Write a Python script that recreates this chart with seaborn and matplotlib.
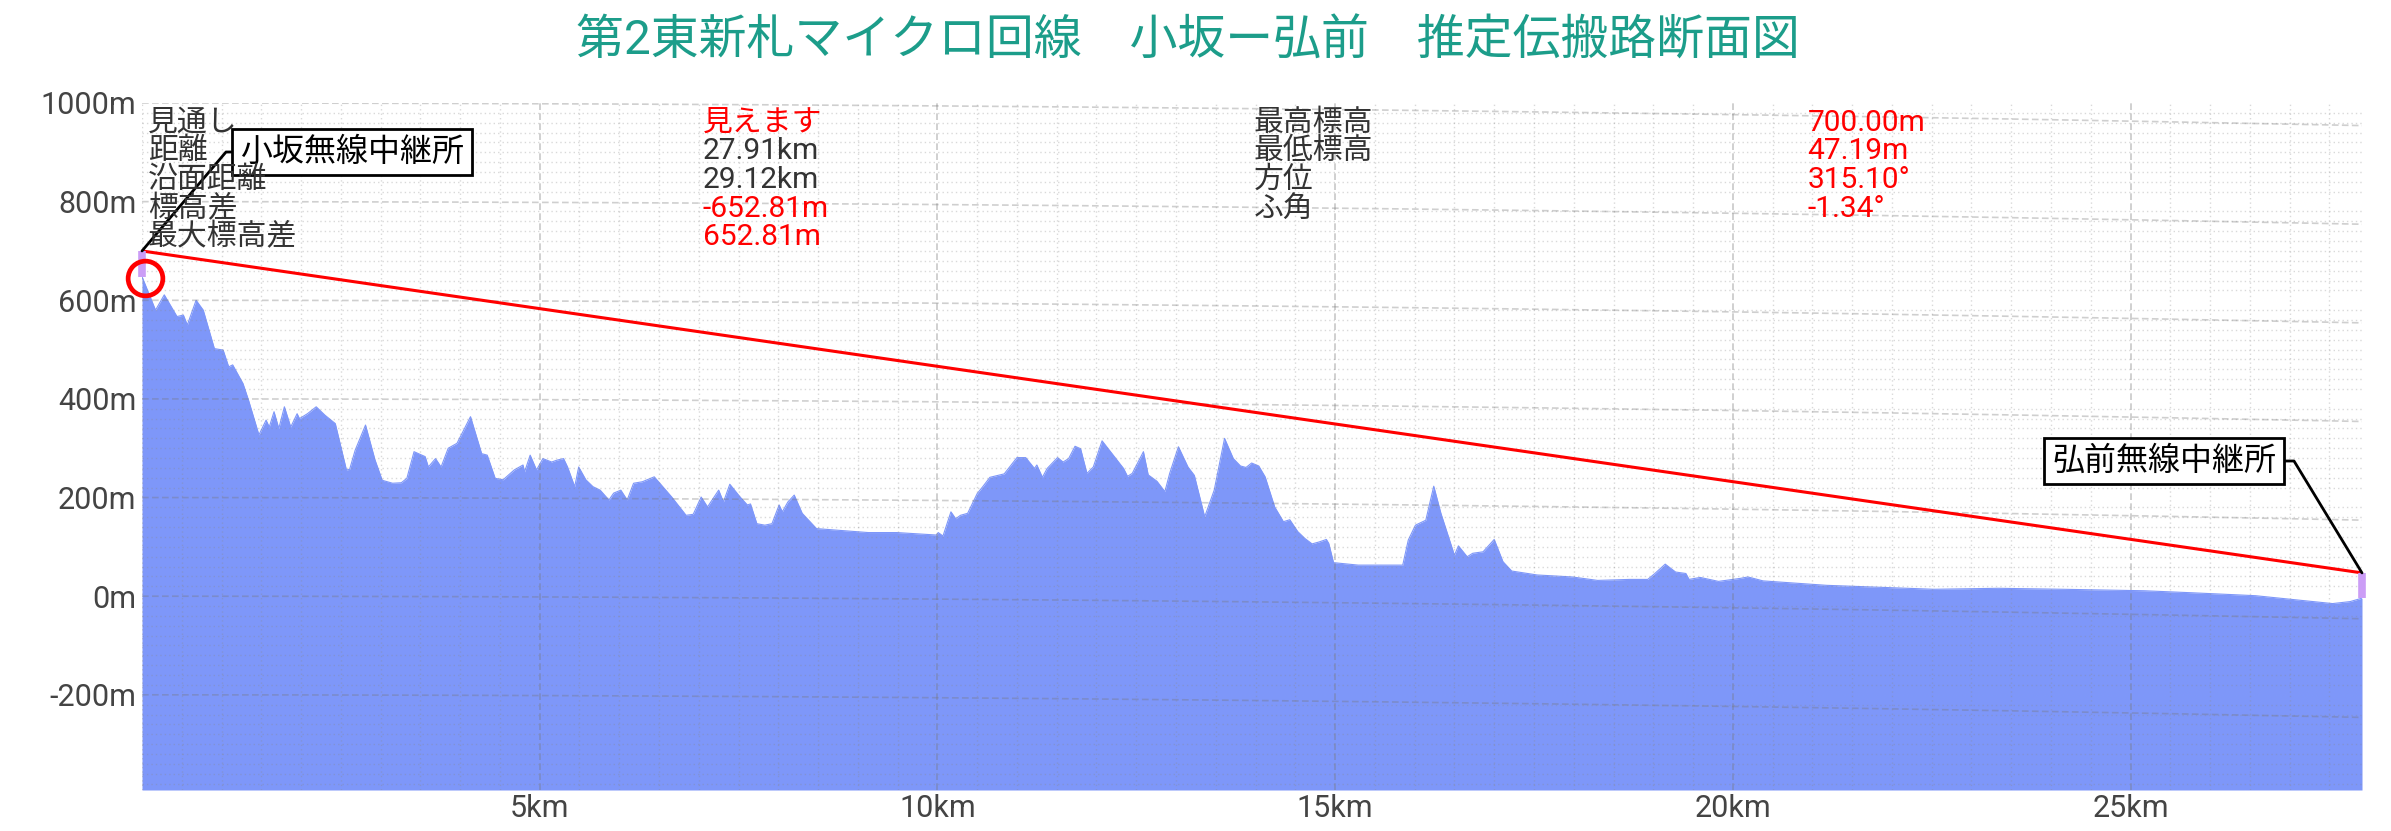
"""
Microwave link path profile: 小坂 - 弘前
"""

import numpy as np
import matplotlib
matplotlib.use("Agg")
import matplotlib.pyplot as plt
from matplotlib.ticker import MultipleLocator, FixedLocator
import seaborn as sns

# ── Data ───────────────────────────────────────────────────────────────────────
TITLE = "第2東新札マイクロ回線　小坂ー弘前　推定伝搬路断面図"

DIST_KM = [
    0.00, 0.17, 0.28, 0.44, 0.52, 0.57, 0.68, 0.77, 0.91, 1.02, 1.09, 1.14,
    1.27, 1.34, 1.47, 1.56, 1.60, 1.66, 1.72, 1.79, 1.87, 1.95, 1.98, 2.08,
    2.19, 2.30, 2.43, 2.57, 2.61, 2.68, 2.81, 2.93, 3.02, 3.15, 3.26, 3.33,
    3.42, 3.56, 3.60, 3.69, 3.76, 3.85, 3.96, 4.13, 4.27, 4.34, 4.44, 4.54,
    4.68, 4.79, 4.81, 4.88, 4.96, 5.04, 5.15, 5.22, 5.30, 5.35, 5.44, 5.49,
    5.58, 5.67, 5.76, 5.87, 5.93, 6.02, 6.10, 6.18, 6.29, 6.44, 6.51, 6.66,
    6.84, 6.93, 7.03, 7.11, 7.25, 7.31, 7.39, 7.52, 7.61, 7.65, 7.73, 7.83,
    7.92, 8.01, 8.05, 8.12, 8.20, 8.30, 8.48, 8.73, 9.13, 9.49, 9.99, 10.01,
    10.07, 10.17, 10.23, 10.29, 10.38, 10.50, 10.57, 10.66, 10.84, 11.00, 11.11, 11.22,
    11.25, 11.32, 11.38, 11.51, 11.58, 11.65, 11.73, 11.80, 11.88, 11.96, 12.07, 12.21,
    12.34, 12.39, 12.45, 12.59, 12.65, 12.76, 12.86, 12.92, 13.03, 13.15, 13.23, 13.36,
    13.48, 13.61, 13.72, 13.81, 13.88, 13.95, 14.04, 14.12, 14.24, 14.35, 14.43, 14.53,
    14.62, 14.71, 14.80, 14.89, 14.92, 14.98, 15.29, 15.56, 15.85, 15.92, 16.01, 16.14,
    16.24, 16.33, 16.50, 16.55, 16.66, 16.73, 16.86, 17.00, 17.11, 17.22, 17.54, 17.98,
    18.30, 18.70, 18.93, 19.02, 19.15, 19.28, 19.41, 19.45, 19.59, 19.82, 20.09, 20.19,
    20.38, 21.18, 22.53, 23.34, 24.15, 25.17, 25.76, 26.57, 27.54, 27.76, 27.91,
]
ELEV_M = [
    648, 580, 611, 567, 570, 550, 600, 580, 502, 499, 465, 469,
    431, 397, 327, 357, 343, 374, 340, 384, 343, 370, 360, 370,
    384, 367, 350, 256, 257, 296, 347, 276, 235, 229, 230, 239,
    293, 283, 262, 279, 262, 300, 310, 364, 289, 286, 239, 236,
    256, 266, 252, 286, 256, 279, 272, 276, 279, 262, 222, 262,
    236, 222, 215, 195, 209, 215, 195, 229, 232, 242, 229, 201,
    164, 166, 201, 181, 215, 191, 227, 201, 185, 187, 147, 144,
    147, 185, 171, 191, 205, 168, 137, 134, 129, 129, 124, 129,
    122, 171, 157, 164, 168, 208, 222, 241, 248, 281, 281, 259,
    266, 241, 259, 281, 272, 279, 304, 299, 249, 262, 315, 286,
    259, 243, 249, 293, 246, 233, 212, 249, 303, 262, 245, 161,
    215, 320, 279, 264, 261, 270, 264, 242, 181, 151, 155, 131,
    117, 106, 110, 115, 107, 68, 63, 63, 63, 114, 144, 154,
    223, 168, 83, 102, 80, 87, 90, 115, 70, 51, 43, 39,
    32, 34, 34, 46, 65, 49, 46, 34, 38, 30, 36, 39,
    31, 22, 14, 16, 14, 11, 7, 1, -15, -11, -4,
]

TOTAL_KM = 27.91
TX_NAME, RX_NAME = "小坂無線中継所", "弘前無線中継所"
TX_TOP, RX_TOP = 700.00, 47.19
CHECK_KM, CHECK_M = 0.04, 645

INFO_LEFT_LABELS = ["見通し", "距離", "沿面距離", "標高差", "最大標高差"]
INFO_LEFT_VALUES = ["見えます", "27.91km", "29.12km", "-652.81m", "652.81m"]
INFO_LEFT_RED = [True, False, False, True, True]
INFO_RIGHT_LABELS = ["最高標高", "最低標高", "方位", "ふ角"]
INFO_RIGHT_VALUES = ["700.00m", "47.19m", "315.10°", "-1.34°"]

X_TICKS = [5, 10, 15, 20, 25]
Y_TICKS = [-200, 0, 200, 400, 600, 800, 1000]
Y_MIN, Y_MAX = -393, 1000
EARTH_KR_KM = 8500.0   # 4/3 effective earth radius

# ── Style ──────────────────────────────────────────────────────────────────────
FILL = "#7e97f9"
ANTENNA = "#cb9df6"
TEAL = "#1c9d8a"
GREY_TXT = "#444444"

sns.set_theme(style="white")
plt.rcParams["font.family"] = ["Roboto", "Noto Sans CJK JP", "DejaVu Sans"]

W, H = 2391, 831
fig = plt.figure(figsize=(W / 100, H / 100), dpi=100)
ax = fig.add_axes([142 / W, 1 - 790 / H, 2220 / W, 687 / H])

# terrain
ax.fill_between(DIST_KM, ELEV_M, Y_MIN, color=FILL, lw=0, zorder=1)
sns.lineplot(x=DIST_KM, y=ELEV_M, color=FILL, lw=0.8, ax=ax,
             estimator=None, sort=False, zorder=1)

# grid
ax.set_xlim(0, TOTAL_KM)
ax.set_ylim(Y_MIN, Y_MAX)
ax.xaxis.set_major_locator(FixedLocator(X_TICKS))
ax.yaxis.set_major_locator(FixedLocator(Y_TICKS))
ax.xaxis.set_minor_locator(MultipleLocator(0.5))
ax.yaxis.set_minor_locator(MultipleLocator(20))
ax.set_axisbelow(False)
ax.grid(which="minor", color="#8a8a8a", alpha=0.32, lw=1.0, linestyle=(0, (1, 2.2)), zorder=2)
ax.grid(which="major", axis="x", color="#777777", alpha=0.4, lw=1.2,
        linestyle=(0, (4, 2)), zorder=2)
ax.grid(which="major", axis="y", visible=False)

# curved elevation reference lines (earth bulge)
d = np.linspace(0, TOTAL_KM, 300)
for h in Y_TICKS:
    ax.plot(d, h - d ** 2 / (2 * EARTH_KR_KM) * 1000, color="#777777", alpha=0.35,
            lw=1.2, linestyle=(0, (4, 2)), zorder=2)

# line of sight + antennas
sns.lineplot(x=[0, TOTAL_KM], y=[TX_TOP, RX_TOP], color="red", lw=2.2, ax=ax,
             estimator=None, zorder=4)
ax.vlines([0, TOTAL_KM], [ELEV_M[0], ELEV_M[-1]], [TX_TOP, RX_TOP],
          colors=ANTENNA, lw=5.5, clip_on=False, zorder=5)
ax.plot([CHECK_KM], [CHECK_M], "o", mfc="none", mec="red", ms=25, mew=3.4,
        clip_on=False, zorder=6)

# station labels
box = dict(boxstyle="square,pad=0.25", fc="white", ec="black", lw=2)
ax.annotate(TX_NAME, xy=(0, TX_TOP), xytext=(352 / W, 1 - 152 / H),
            textcoords="figure fraction", ha="center", va="center",
            fontsize=23, color="black", bbox=box, zorder=7,
            arrowprops=dict(arrowstyle="-", color="black", lw=2, relpos=(0, 0.5),
                            shrinkA=0, shrinkB=0,
                            connectionstyle="arc,angleA=180,armA=14,angleB=0,armB=0,rad=0"))
ax.annotate(RX_NAME, xy=(TOTAL_KM, RX_TOP), xytext=(2164 / W, 1 - 461 / H),
            textcoords="figure fraction", ha="center", va="center",
            fontsize=23, color="black", bbox=box, zorder=7,
            arrowprops=dict(arrowstyle="-", color="black", lw=2, relpos=(1, 0.5),
                            shrinkA=0, shrinkB=0,
                            connectionstyle="arc,angleA=0,armA=18,angleB=0,armB=0,rad=0"))

# info block
row_y = [0.9716, 0.9298, 0.888, 0.846, 0.8045]
for i, (lab, val, red) in enumerate(zip(INFO_LEFT_LABELS, INFO_LEFT_VALUES, INFO_LEFT_RED)):
    ax.text(0.0027, row_y[i], lab, transform=ax.transAxes, fontsize=21.5,
            color="#333333", va="center", ha="left", zorder=8)
    ax.text(0.2527, row_y[i], val, transform=ax.transAxes, fontsize=21.5,
            color="red" if red else "#333333", va="center", ha="left", zorder=8)
for i, (lab, val) in enumerate(zip(INFO_RIGHT_LABELS, INFO_RIGHT_VALUES)):
    ax.text(0.5009, row_y[i], lab, transform=ax.transAxes, fontsize=21.5,
            color="#333333", va="center", ha="left", zorder=8)
    ax.text(0.7502, row_y[i], val, transform=ax.transAxes, fontsize=21.5,
            color="red", va="center", ha="left", zorder=8)

# axes cosmetics
ax.set_xticklabels([f"{v}km" for v in X_TICKS])
ax.set_yticklabels([f"{v}m" for v in Y_TICKS])
ax.tick_params(which="both", length=0, labelsize=22, labelcolor=GREY_TXT)
ax.tick_params(axis="x", pad=3)
ax.tick_params(axis="y", pad=4)
ax.set_xlabel("")
ax.set_ylabel("")
for s in ax.spines.values():
    s.set_visible(False)

fig.text(0.497, 1 - 42 / H, TITLE, ha="center", va="center", fontsize=34.5, color=TEAL)

fig.savefig("out.png", dpi=100)
